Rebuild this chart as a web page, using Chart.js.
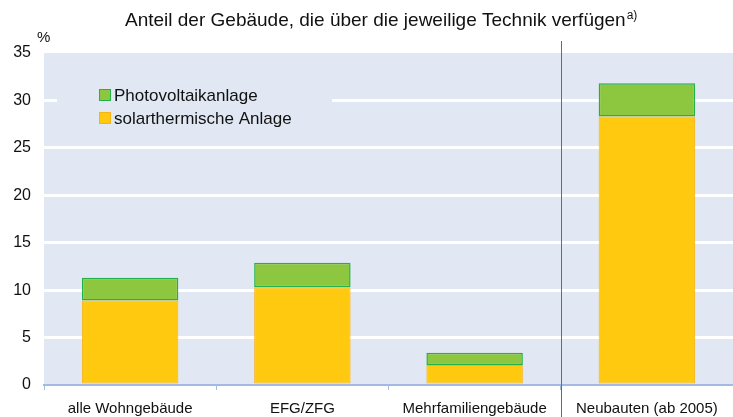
<!DOCTYPE html>
<html>
<head>
<meta charset="utf-8">
<script src="https://cdn.jsdelivr.net/npm/chart.js@4.4.1/dist/chart.umd.min.js"></script>
<style>
  html, body { margin: 0; padding: 0; background: #fff; }
  #wrap { width: 733px; height: 417px; position: relative; }
</style>
</head>
<body>
<div id="wrap"><canvas id="chart"></canvas></div>
<script>
// Daten (Prozent)
const kategorien = ['alle Wohngebäude', 'EFG/ZFG', 'Mehrfamiliengebäude', 'Neubauten (ab 2005)'];
const solarthermie = [8.9, 10.3, 2.1, 28.3];
const photovoltaik = [2.4, 2.6, 1.3, 3.5];
const yTicks = [0, 5, 10, 15, 20, 25, 30, 35];

const TITEL = 'Anteil der Gebäude, die über die jeweilige Technik verfügen';
const FONT = "'Liberation Sans', Arial, sans-serif";

const CORES = {
  plotBg:   '#e1e8f3',
  solar:    '#fec90f',
  solarRand:'#f7b21a',
  pv:       '#8dc63f',
  pvRand:   '#22b14c',
  achse:    '#a3bbe2',
  trenner:  '#6b6b6b',
};

// Hintergrund, Trennlinie, Titel und Legende
const deko = {
  id: 'deko',
  beforeDraw(chart) {
    const { ctx, chartArea: a } = chart;
    ctx.save();
    ctx.fillStyle = CORES.plotBg;
    ctx.fillRect(a.left, a.top, a.right - a.left, a.bottom - a.top);
    ctx.restore();
  },
  beforeDatasetsDraw(chart) {
    // Legendenkasten verdeckt die Gitterlinie
    const { ctx } = chart;
    ctx.save();
    ctx.fillStyle = CORES.plotBg;
    ctx.fillRect(57, 80, 275, 55);
    ctx.restore();
  },
  afterDraw(chart) {
    const { ctx, scales } = chart;
    const x = scales.x;
    ctx.save();
    // Trennlinie vor Neubauten
    const xs = (x.getPixelForValue(2) + x.getPixelForValue(3)) / 2;
    ctx.strokeStyle = CORES.trenner;
    ctx.lineWidth = 1;
    ctx.beginPath();
    ctx.moveTo(Math.round(xs) + 0.5, 41);
    ctx.lineTo(Math.round(xs) + 0.5, 417);
    ctx.stroke();

    // Titel mit Hochzeichen
    ctx.fillStyle = '#111';
    ctx.textBaseline = 'alphabetic';
    ctx.textAlign = 'left';
    ctx.font = '19px ' + FONT;
    const w = ctx.measureText(TITEL).width;
    const x0 = 125;
    ctx.fillText(TITEL, x0, 26);
    ctx.font = '12px ' + FONT;
    ctx.fillText('a)', x0 + w + 1, 19);

    // Prozentzeichen
    ctx.textBaseline = 'middle';
    ctx.font = '15px ' + FONT;
    ctx.fillText('%', 37, 38);

    // Legende
    const eintraege = [
      { text: 'Photovoltaikanlage', fill: CORES.pv, rand: CORES.pvRand },
      { text: 'solarthermische Anlage', fill: CORES.solar, rand: CORES.solarRand },
    ];
    eintraege.forEach((e, i) => {
      const y = 95 + i * 23;
      ctx.fillStyle = e.fill;
      ctx.fillRect(99, y - 6, 12, 12);
      ctx.strokeStyle = e.rand;
      ctx.lineWidth = 1;
      ctx.strokeRect(99.5, y - 5.5, 11, 11);
      ctx.fillStyle = '#111';
      ctx.font = '17px ' + FONT;
      ctx.fillText(e.text, 114, y + 1);
    });
    ctx.restore();
  },
};

new Chart(document.getElementById('chart'), {
  type: 'bar',
  data: {
    labels: kategorien,
    datasets: [
      {
        label: 'solarthermische Anlage',
        data: solarthermie,
        backgroundColor: CORES.solar,
        borderColor: CORES.solarRand,
        borderWidth: 1,
        borderSkipped: false,
      },
      {
        label: 'Photovoltaikanlage',
        data: photovoltaik,
        backgroundColor: CORES.pv,
        borderColor: CORES.pvRand,
        borderWidth: 1.5,
        borderSkipped: false,
      },
    ],
  },
  options: {
    responsive: true,
    maintainAspectRatio: false,
    animation: false,
    layout: { padding: { top: 53, right: 0, left: 0, bottom: 0 } },
    categoryPercentage: 1,
    barPercentage: 0.56,
    plugins: {
      legend: { display: false },
      tooltip: { enabled: false },
      title: { display: false },
    },
    scales: {
      x: {
        stacked: true,
        afterFit: s => { s.height = 32; },
        grid: {
          offset: true,
          drawOnChartArea: false,
          drawTicks: true,
          tickLength: 5,
          color: CORES.achse,
        },
        border: { display: true, color: CORES.achse, width: 2 },
        ticks: {
          color: '#111',
          font: { family: FONT, size: 15 },
          padding: 10,
          maxRotation: 0,
          autoSkip: false,
        },
      },
      y: {
        stacked: true,
        min: 0,
        max: 35,
        afterFit: s => { s.width = 44; },
        afterBuildTicks: s => { s.ticks = yTicks.map(v => ({ value: v })); },
        grid: {
          color: ctx => (ctx.tick.value === 0 || ctx.tick.value === 35) ? 'rgba(0,0,0,0)' : '#ffffff',
          lineWidth: 3,
          drawTicks: false,
        },
        border: { display: false },
        ticks: {
          color: '#111',
          font: { family: FONT, size: 16 },
          padding: 13,
        },
      },
    },
  },
  plugins: [deko],
});
</script>
</body>
</html>
